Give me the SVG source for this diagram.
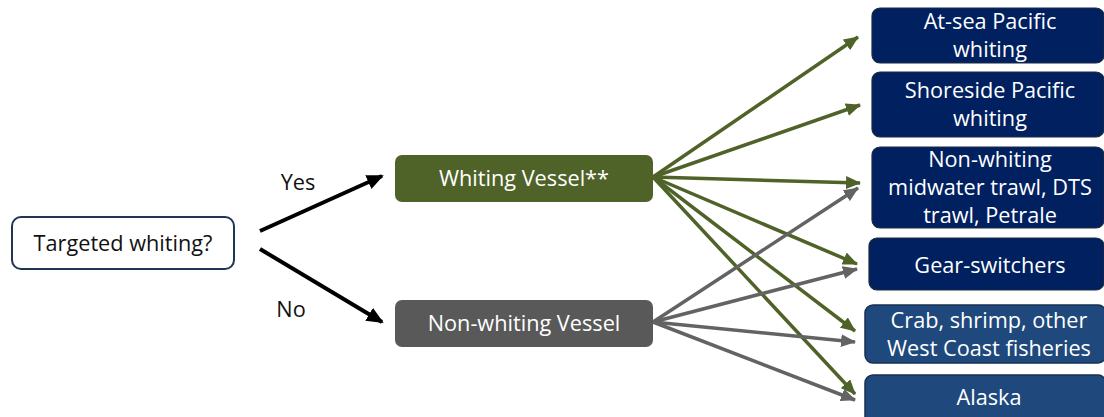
<svg xmlns="http://www.w3.org/2000/svg" width="1104" height="417" viewBox="0 0 1104 417">
<style>
text{font-family:"Open Sans","Liberation Sans",sans-serif;font-size:21.7px;text-anchor:middle}
.w{fill:#ffffff}
.k{fill:#111111}
.navy{fill:#002060;stroke:#1a2a40;stroke-width:1.2}
.blue{fill:#1f487c;stroke:#16304f;stroke-width:1.5}
.cb{stroke:#000000;stroke-width:4;fill:none}
.cg{stroke:#4f6228;stroke-width:3.5;fill:none}
.cy{stroke:#636363;stroke-width:3.5;fill:none}
</style>
<defs>
<marker id="ak" markerUnits="userSpaceOnUse" markerWidth="17" markerHeight="15" viewBox="0 0 17 15" refX="15" refY="7.5" orient="auto"><path d="M0,0 L17,7.5 L0,15 Z" fill="#000000"/></marker>
<marker id="ag" markerUnits="userSpaceOnUse" markerWidth="15" markerHeight="13" viewBox="0 0 15 13" refX="14" refY="6.5" orient="auto"><path d="M0,0 L15,6.5 L0,13 Z" fill="#4f6228"/></marker>
<marker id="ay" markerUnits="userSpaceOnUse" markerWidth="15" markerHeight="13" viewBox="0 0 15 13" refX="14" refY="6.5" orient="auto"><path d="M0,0 L15,6.5 L0,13 Z" fill="#636363"/></marker>
</defs>
<g id="connectors">
<line class="cb" x1="260" y1="231" x2="382" y2="176" marker-end="url(#ak)"/>
<line class="cb" x1="260" y1="249" x2="382" y2="322" marker-end="url(#ak)"/>
<line class="cg" x1="653" y1="177" x2="858" y2="37" marker-end="url(#ag)"/>
<line class="cg" x1="653" y1="177" x2="860" y2="105" marker-end="url(#ag)"/>
<line class="cg" x1="653" y1="177" x2="860" y2="183" marker-end="url(#ag)"/>
<line class="cg" x1="653" y1="177" x2="857" y2="264" marker-end="url(#ag)"/>
<line class="cg" x1="653" y1="177" x2="855" y2="331" marker-end="url(#ag)"/>
<line class="cg" x1="653" y1="177" x2="855" y2="394" marker-end="url(#ag)"/>
<line class="cy" x1="653" y1="322" x2="858" y2="188" marker-end="url(#ay)"/>
<line class="cy" x1="653" y1="322" x2="857" y2="269" marker-end="url(#ay)"/>
<line class="cy" x1="653" y1="322" x2="855" y2="342" marker-end="url(#ay)"/>
<line class="cy" x1="653" y1="322" x2="855" y2="400" marker-end="url(#ay)"/>
</g>
<g id="label-yes"><text class="k" x="298" y="190">Yes</text></g>
<g id="label-no"><text class="k" x="291" y="317">No</text></g>
<g id="targeted">
<rect x="12" y="217" width="222" height="52" rx="9" fill="#ffffff" stroke="#1f3553" stroke-width="2"/>
<text class="k" x="123" y="251">Targeted whiting?</text>
</g>
<g id="whiting-vessel">
<rect x="395" y="155" width="258" height="47" rx="7" fill="#4f6228"/>
<text class="w" x="524" y="186">Whiting Vessel**</text>
</g>
<g id="non-whiting-vessel">
<rect x="395" y="300" width="258" height="47" rx="7" fill="#595959"/>
<text class="w" x="524" y="331">Non-whiting Vessel</text>
</g>
<g id="at-sea">
<rect class="navy" x="872" y="8" width="232" height="55" rx="8"/>
<text class="w" x="990" y="29">At-sea Pacific</text>
<text class="w" x="990" y="57">whiting</text>
</g>
<g id="shoreside">
<rect class="navy" x="872" y="72" width="232" height="65" rx="8"/>
<text class="w" x="990" y="98">Shoreside Pacific</text>
<text class="w" x="990" y="126">whiting</text>
</g>
<g id="non-whiting-trawl">
<rect class="navy" x="872" y="147" width="232" height="81" rx="8"/>
<text class="w" x="990" y="167">Non-whiting</text>
<text class="w" x="990" y="195">midwater trawl, DTS</text>
<text class="w" x="990" y="223">trawl, Petrale</text>
</g>
<g id="gear-switchers">
<rect class="navy" x="869" y="238" width="235" height="52" rx="8"/>
<text class="w" x="990" y="273">Gear-switchers</text>
</g>
<g id="crab">
<rect class="blue" x="865" y="305" width="241" height="58" rx="8"/>
<text class="w" x="989" y="328">Crab, shrimp, other</text>
<text class="w" x="989" y="356">West Coast fisheries</text>
</g>
<g id="alaska">
<rect class="blue" x="865" y="375" width="241" height="50" rx="8"/>
<text class="w" x="989" y="405">Alaska</text>
</g>
</svg>
